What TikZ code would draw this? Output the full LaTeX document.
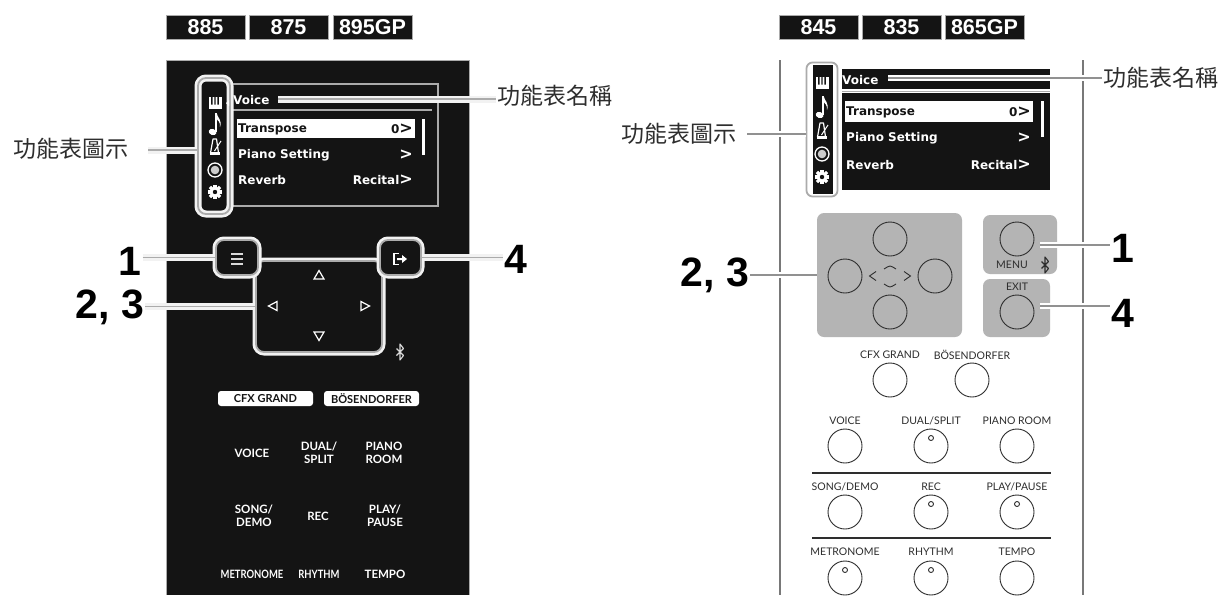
\documentclass[tikz,border=0pt]{standalone}
\usepackage{fontspec}
\setmainfont{Liberation Sans}
\newfontfamily\cjkf{Noto Sans CJK TC}
\newfontfamily\latof{Lato}
\newfontfamily\scrf{DejaVu Sans}
\definecolor{pblack}{HTML}{141414}
\definecolor{halo}{HTML}{F2F2F2}
\definecolor{core}{HTML}{ABABAB}
\definecolor{pad}{HTML}{B4B4B4}
\definecolor{ink}{HTML}{2E2E2E}
\newcommand{\chev}{{\fontsize{16}{14}\selectfont >}}
\tikzset{
  tagbox/.style={fill=pblack,draw=core,line width=.8pt,minimum width=79pt,minimum height=24pt,inner sep=0pt,text=white,font=\fontsize{21.5}{24}\selectfont\bfseries},
  cjklabel/.style={inner sep=1pt,text=ink,font=\fontsize{23}{26}\selectfont\cjkf},
  numlabel/.style={inner sep=1pt,text=black,font=\fontsize{41}{42}\selectfont\bfseries},
  leader/.style={draw=core,line width=1.8pt,preaction={draw=halo,line width=7pt}},
  thinleader/.style={draw=core!85!black,line width=1.8pt,preaction={draw=white,line width=6pt}},
  hlbox/.style={draw=core,line width=1.8pt,preaction={draw=halo,line width=7pt},fill=pblack,rounded corners=8pt,inner sep=0pt},
  scrtext/.style={inner sep=0pt,anchor=west,text=white,font=\fontsize{12}{14}\selectfont\scrf\bfseries},
  scrval/.style={inner sep=0pt,anchor=east,text=white,font=\fontsize{12}{14}\selectfont\scrf\bfseries},
  keydark/.style={inner sep=0pt,align=center,text=white,font=\fontsize{11.5}{12.5}\selectfont\latof\bfseries},
  keydarkw/.style={inner sep=0pt,text=pblack,font=\fontsize{11}{13}\selectfont\latof\bfseries},
  keylight/.style={inner sep=0pt,text=ink,font=\fontsize{10.5}{12}\selectfont\latof},
  btn/.style={circle,draw=ink,line width=.9pt,minimum size=34pt,inner sep=0pt},
  led/.style={circle,draw=ink,line width=.9pt,fill=white,minimum size=5pt,inner sep=0pt},
  navtri/.style={draw=white,line width=1.2pt,line join=miter},
}
\newcommand{\btooth}[3]{\draw[#3,line width=1.1pt,line join=round] (#1-3.5,#2-3.5) -- (#1+3.5,#2+3.5) -- (#1,#2+8) -- (#1,#2-8) -- (#1+3.5,#2-3.5) -- (#1-3.5,#2+3.5);}
\newcommand{\iconpiano}[2]{\begin{scope}[shift={(#1,#2)}]
  \fill[white] (-6.5,-6) rectangle (6.5,6);
  \fill[pblack] (-3.8,-6) rectangle (-2.4,1.5) (-.7,-6) rectangle (.7,1.5) (2.4,-6) rectangle (3.8,1.5);
\end{scope}}
\newcommand{\iconnote}[2]{\begin{scope}[shift={(#1,#2)}]
  \fill[white] (-2.4,8) ellipse [x radius=4,y radius=3,rotate=-20];
  \fill[white] (.3,8) rectangle (1.6,-11);
  \fill[white] (1.6,-11) .. controls (2.5,-6) and (7.5,-4) .. (5,3) .. controls (5.5,-2) and (3,-3.5) .. (1.6,-5) -- cycle;
\end{scope}}
\newcommand{\iconmetro}[2]{\begin{scope}[shift={(#1,#2)}]
  \draw[white,line width=1.2pt,line join=round] (-2,-8) -- (1.5,-8) -- (3.5,6) -- (-4.5,6) -- cycle;
  \fill[white] (-5.5,5) rectangle (4.5,7.5);
  \draw[white,line width=1pt] (-.5,4) -- (6,-6);
\end{scope}}
\newcommand{\iconrec}[2]{\begin{scope}[shift={(#1,#2)}]
  \draw[white,line width=1.3pt] (0,0) circle (7);
  \fill[white!80!black] (0,0) circle (4.3);
\end{scope}}
\newcommand{\icongear}[2]{\begin{scope}[shift={(#1,#2)}]
  \fill[white] (0,0) circle (5.2);
  \foreach \a in {0,45,...,315}{\fill[white,rotate=\a] (-1.6,4) rectangle (1.6,7.2);}
  \fill[pblack] (0,0) circle (2.2);
\end{scope}}
\begin{document}
\begin{tikzpicture}[x=1pt,y=-1pt]
\useasboundingbox[fill=white] (0,0) rectangle (1223,595);

% ---------- left model
\node[tagbox] (t885) at (205.5,27) {885};
\node[tagbox] (t875) at (288.5,27) {875};
\node[tagbox] (t895) at (372.5,27) {895GP};
\fill[pblack] (166,60) rectangle (469,595);
\draw[core,line width=.8pt] (166,595) -- (166,60) -- (469,60) -- (469,595);

\draw[core,line width=1.2pt] (233,84) -- (438,84) -- (438,206) -- (233,206);
\draw[core,line width=1.2pt] (233,110) -- (432,110);
\node[scrtext] (voiceL) at (233,100) {Voice};
\fill[white] (237,119) rectangle (415,138);
\fill[white] (422,119) rectangle (425,155);
\node[scrtext,text=pblack] (trL) at (238,129) {Transpose};
\node[scrval,text=pblack] (trvL) at (413,129) {0\chev};
\node[scrtext] (psL) at (238,155) {Piano Setting};
\node[scrval] (psvL) at (413,155) {\chev};
\node[scrtext] (rvL) at (238,180) {Reverb};
\node[scrval] (rvvL) at (413,180) {Recital\chev};

\node[hlbox,fill=none,minimum width=32pt,minimum height=136pt] (iconsL) at (214,146) {};
\iconpiano{215}{103}
\fill[white] (226,103) -- (229,100) -- (229,106) -- cycle;
\iconnote{215}{124}
\iconmetro{215}{147}
\iconrec{215}{170}
\icongear{215}{192}

\node[hlbox,minimum width=126pt,minimum height=91pt] (navL) at (319,306.5) {};
\node[hlbox,minimum width=42pt,minimum height=35pt] (menuL) at (237,257.5) {};
\node[hlbox,minimum width=41pt,minimum height=35pt] (exitL) at (400.5,257.5) {};
\draw[white!85!black,line width=1.3pt] (231,254) -- (243,254) (231,259) -- (243,259) (231,264) -- (243,264);
\draw[white,line width=1.2pt] (399,253.5) -- (394,253.5) -- (394,264.5) -- (399,264.5);
\fill[white] (397,258) -- (402,258) -- (402,255) -- (407,259) -- (402,263) -- (402,260) -- (397,260) -- cycle;
\draw[navtri] (319,270.5) -- (324,279) -- (314,279) -- cycle;
\draw[navtri] (268.5,306) -- (277,301.5) -- (277,310.5) -- cycle;
\draw[navtri] (369.5,306) -- (361,301.5) -- (361,310.5) -- cycle;
\draw[navtri] (319,340.5) -- (324,332) -- (314,332) -- cycle;
\btooth{400}{352}{white!85!black}

\node[fill=white,rounded corners=3pt,minimum width=95pt,minimum height=15pt,inner sep=0pt] (cfxbL) at (265.5,398.5) {};
\node[fill=white,rounded corners=3pt,minimum width=95pt,minimum height=15pt,inner sep=0pt] (bosbL) at (371.5,398.5) {};
\node[keydarkw] (cfxL) at (265.5,398.5) {CFX GRAND};
\node[keydarkw] (bosL) at (371.5,398.5) {BÖSENDORFER};
\node[keydark] (vcL) at (252,453) {VOICE};
\node[keydark] (dsL) at (319,453) {DUAL/\\SPLIT};
\node[keydark] (prL) at (384,453) {PIANO\\ROOM};
\node[keydark] (sdL) at (254,516) {SONG/\\DEMO};
\node[keydark] (reL) at (318,516) {REC};
\node[keydark] (ppL) at (385,516) {PLAY/\\PAUSE};
\node[keydark,xscale=.82] (meL) at (252,574.5) {METRONOME};
\node[keydark,xscale=.82] (rhL) at (319,574.5) {RHYTHM};
\node[keydark] (teL) at (385,574.5) {TEMPO};

% labels left
\node[cjklabel,anchor=east] (lbIconL) at (130,149) {功能表圖示};
\node[cjklabel,anchor=west] (lbNameL) at (496,96) {功能表名稱};
\node[numlabel] (n1L) at (130,261) {1};
\node[numlabel] (n23L) at (110,307) {2, 3};
\node[numlabel] (n4L) at (516,259) {4};
\coordinate (vrefL) at (278,99);
\coordinate (iconrefL) at (148,150);
\draw[leader] (iconrefL) -- (iconrefL -| iconsL.west);
\draw[leader] (vrefL) -- (vrefL -| lbNameL.west);
\draw[leader] (n1L.east |- menuL.west) -- (menuL.west);
\draw[leader] (n23L.east |- navL.west) -- (navL.west);
\draw[leader] (exitL.east) -- (exitL.east -| n4L.west);

% ---------- right model
\node[tagbox] (t845) at (818.5,27) {845};
\node[tagbox] (t835) at (901.5,27) {835};
\node[tagbox] (t865) at (984.5,27) {865GP};
\draw[core!70!black,line width=1.4pt] (780,60) -- (780,595) (1083,60) -- (1083,595);

\fill[pblack] (842,69) rectangle (1050,190);
\fill[white] (842,89) rectangle (1050,93);
\draw[core,line width=.9pt] (842,91) -- (1050,91);
\node[scrtext] (voiceR) at (842,80) {Voice};
\fill[white] (845,101) rectangle (1033,122);
\fill[white] (1041,101) rectangle (1044,137);
\node[scrtext,text=pblack] (trR) at (846,112) {Transpose};
\node[scrval,text=pblack] (trvR) at (1031,112) {0\chev};
\node[scrtext] (psR) at (846,138) {Piano Setting};
\node[scrval] (psvR) at (1031,138) {\chev};
\node[scrtext] (rvR) at (846,165) {Reverb};
\node[scrval] (rvvR) at (1031,165) {Recital\chev};

\node[draw=core,line width=1.8pt,rounded corners=6pt,fill=white,minimum width=31pt,minimum height=134pt,inner sep=0pt] (iconsR) at (822,129.5) {};
\fill[pblack] (813,65) rectangle (833,194);
\iconpiano{822}{83}
\fill[white] (833,83) -- (836,80) -- (836,86) -- cycle;
\iconnote{822}{107}
\iconmetro{822}{131}
\iconrec{822}{154}
\icongear{822}{177}

\node[fill=pad,rounded corners=7pt,minimum width=145pt,minimum height=124pt,inner sep=0pt] (navR) at (889.5,275) {};
\node[fill=pad,rounded corners=7pt,minimum width=74pt,minimum height=59pt,inner sep=0pt] (menuR) at (1020,244.5) {};
\node[fill=pad,rounded corners=7pt,minimum width=67pt,minimum height=58pt,inner sep=0pt] (exitR) at (1016.5,308) {};
\node[btn] (bUp) at (890,239) {};
\node[btn] (bLeft) at (845,276) {};
\node[btn] (bRight) at (935,276) {};
\node[btn] (bDown) at (890,312) {};
\node[btn] (bMenu) at (1017,239) {};
\node[btn] (bExit) at (1017,312) {};
\draw[ink,line width=.9pt] (876,271.5) -- (869.5,276) -- (876,280.5);
\draw[ink,line width=.9pt] (904,271.5) -- (910.5,276) -- (904,280.5);
\draw[ink,line width=.9pt] (884,269) .. controls (887,267.5) and (888,266) .. (890,266) .. controls (892,266) and (893,267.5) .. (896,269);
\draw[ink,line width=.9pt] (884,284) .. controls (887,285.5) and (888,287) .. (890,287) .. controls (892,287) and (893,285.5) .. (896,284);
\node[keylight] (menuT) at (1012,265) {MENU};
\node[keylight] (exitT) at (1017,287) {EXIT};
\btooth{1045}{265}{ink}

\node[keylight] (cfxR) at (890,355) {CFX GRAND};
\node[keylight] (bosR) at (972,355) {BÖSENDORFER};
\node[btn] (bCfx) at (890,380) {};
\node[btn] (bBos) at (972,380) {};

\node[keylight] (vcR) at (845,421) {VOICE};
\node[keylight] (dsR) at (931,421) {DUAL/SPLIT};
\node[keylight] (prR) at (1017,421) {PIANO ROOM};
\node[btn] (bVc) at (845,446) {};
\node[btn] (bDs) at (931,446) {};
\node[btn] (bPr) at (1017,446) {};
\node[led] (lDs) at (931,438) {};
\draw[ink,line width=2pt] (812,473) -- (1051,473);
\node[keylight] (sdR) at (845,487) {SONG/DEMO};
\node[keylight] (reR) at (931,487) {REC};
\node[keylight] (ppR) at (1017,487) {PLAY/PAUSE};
\node[btn] (bSd) at (845,512) {};
\node[btn] (bRe) at (931,512) {};
\node[btn] (bPp) at (1017,512) {};
\node[led] (lRe) at (931,504) {};
\node[led] (lPp) at (1017,504) {};
\draw[ink,line width=1.1pt] (812,538) -- (1051,538);
\node[keylight] (meR) at (845,552) {METRONOME};
\node[keylight] (rhR) at (931,552) {RHYTHM};
\node[keylight] (teR) at (1017,552) {TEMPO};
\node[btn] (bMe) at (845,578) {};
\node[btn] (bRh) at (931,578) {};
\node[btn] (bTe) at (1017,578) {};
\node[led] (lMe) at (845,570) {};
\node[led] (lRh) at (931,570) {};

% labels right
\node[cjklabel,anchor=east] (lbIconR) at (738,134) {功能表圖示};
\node[cjklabel,anchor=west] (lbNameR) at (1102,78) {功能表名稱};
\node[numlabel] (n23R) at (715,275) {2, 3};
\node[numlabel] (n1R) at (1123,248) {1};
\node[numlabel] (n4R) at (1123,313) {4};
\coordinate (vrefR) at (888,78);
\coordinate (iconrefR) at (747,134);
\coordinate (m1R) at (1040,245);
\coordinate (m4R) at (1040,306);
\draw[thinleader] (iconrefR) -- (iconrefR -| iconsR.west);
\draw[thinleader] (vrefR) -- (vrefR -| lbNameR.west);
\draw[thinleader] (n23R.east |- navR.west) -- (navR.west);
\draw[thinleader] (m1R) -- (m1R -| n1R.west);
\draw[thinleader] (m4R) -- (m4R -| n4R.west);
\end{tikzpicture}
\end{document}
